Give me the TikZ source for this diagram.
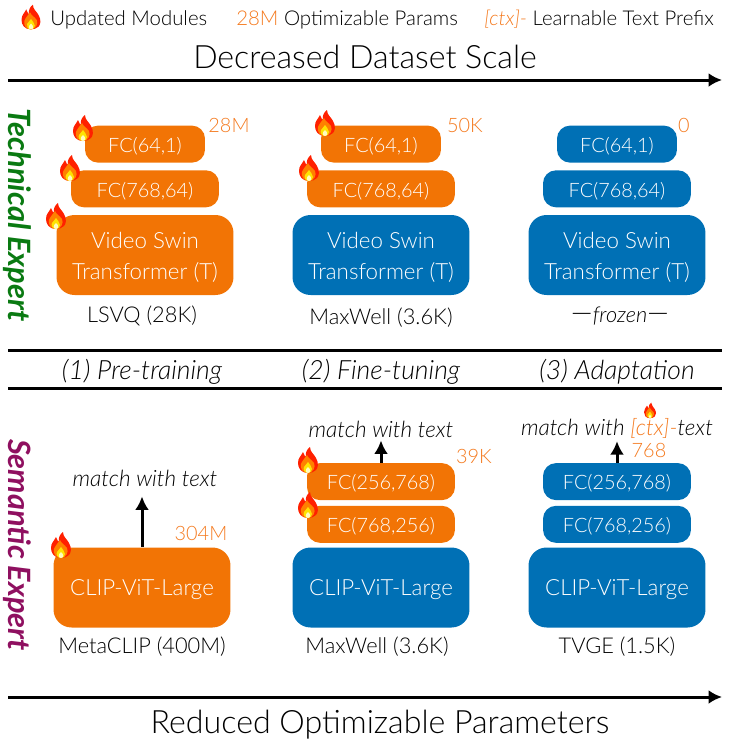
\documentclass[tikz,border=0pt]{standalone}
\usepackage{fontspec}
\setmainfont{Lato Light}[BoldFont={Lato},ItalicFont={Lato Light Italic},BoldItalicFont={Lato Bold Italic}]
\usetikzlibrary{positioning,arrows,arrows.meta}
\definecolor{modorange}{HTML}{F27405}
\definecolor{modblue}{HTML}{0070B5}
\definecolor{numorange}{HTML}{F47A1F}
\definecolor{techgreen}{HTML}{0A7A12}
\definecolor{semplum}{HTML}{8F1060}
\newcommand{\videolabel}{\rule{0pt}{0.42cm}Video Swin\\Transformer (T)}
\tikzset{
  box/.style={rounded corners=0.26cm, text=white, inner sep=0pt, minimum height=0.74cm,
    execute at begin node={\rule{0pt}{0.38cm}}},
  fcsmall/.style={box, minimum width=2.4cm, font=\fontsize{11.3}{13}\selectfont},
  fcwide/.style={box, minimum width=2.96cm, font=\fontsize{11.3}{13}\selectfont},
  mainbox/.style={rounded corners=0.36cm, text=white, inner sep=0pt, minimum width=3.54cm,
    minimum height=1.6cm, align=center, font=\fontsize{12.7}{17.6}\selectfont},
  clipbox/.style={mainbox, execute at begin node={\rule{0pt}{0.42cm}}},
  legend/.style={anchor=west, inner sep=0pt, font=\fontsize{11.6}{13}\selectfont},
  caption/.style={font=\fontsize{12.4}{14}\selectfont},
  number/.style={text=numorange, font=\fontsize{11.3}{13}\selectfont},
  matchtext/.style={font=\fontsize{12.8}{14}\selectfont\itshape},
  stage/.style={font=\fontsize{15.1}{17}\selectfont\itshape},
  headline/.style={font=\fontsize{18.3}{21}\selectfont},
  expert/.style={rotate=-90, font=\fontsize{17.5}{20}\selectfont\bfseries\itshape},
  rule/.style={line width=0.06cm},
  tip/.style={-{Latex[length=0.27cm,width=0.28cm]}},
  pics/flame/.style={code={
    \fill[red!75!orange] (0,12) .. controls (-7,12) and (-10,7) .. (-10,2)
      .. controls (-10,-3) and (-7,-5) .. (-5,-9) .. controls (-4,-6) and (-3,-5) .. (-2,-4)
      .. controls (-3,-8) and (-1,-12) .. (2,-14) .. controls (2,-9) and (6,-7) .. (8,-3)
      .. controls (11,2) and (10,7) .. (8,9) .. controls (6,11) and (3,12) .. (0,12) -- cycle;
    \fill[orange] (0,12) .. controls (-5,12) and (-8,8) .. (-7,3)
      .. controls (-6,0) and (-3,-3) .. (-1,-6) .. controls (0,-3) and (4,-1) .. (6,2)
      .. controls (8,6) and (5,12) .. (0,12) -- cycle;
    \fill[yellow!85!orange] (0,12) .. controls (-4,12) and (-5,8) .. (-4,6)
      .. controls (-3,4) and (-1,3) .. (0,1) .. controls (1,3) and (4,5) .. (4,8)
      .. controls (4,10) and (2,12) .. (0,12) -- cycle;
    \fill[yellow!25] (0,12) .. controls (-3,12) and (-3,8) .. (0,6)
      .. controls (3,8) and (3,12) .. (0,12) -- cycle;
  }}
}
\begin{document}
\begin{tikzpicture}[x=0.02cm, y=-0.02cm, node distance=0.14cm]
  \useasboundingbox (0,0) rectangle (731,745);

  % Legend
  \pic[scale=0.95] at (31,18) {flame};
  \node[legend] (legenda) at (50,19.5) {Updated Modules};
  \node[legend] (legendb) at (236,19.5) {\textcolor{numorange}{28M} Optimizable Params};
  \node[legend] (legendc) at (484,19.5) {\textcolor{numorange}{\textit{[ctx]-}} Learnable Text Prefix};

  % Headings and rules
  \node[headline] (topline) at (365,57) {Decreased Dataset Scale};
  \node[headline] (botline) at (380,725) {Reduced Optimizable Parameters};
  \coordinate (ta) at (8,80);   \coordinate (tb) at (722,80);
  \coordinate (ma) at (8,350);  \coordinate (mb) at (722,350);
  \coordinate (na) at (8,388);  \coordinate (nb) at (722,388);
  \coordinate (ba) at (8,697);  \coordinate (bb) at (722,697);
  \draw[rule, tip] (ta) -- (tb);
  \draw[rule] (ma) -- (mb);
  \draw[rule] (na) -- (nb);
  \draw[rule, tip] (ba) -- (bb);

  \node[expert, text=techgreen] (technical) at (17,215) {Technical Expert};
  \node[expert, text=semplum] (semantic) at (17,545) {Semantic Expert};

  \node[stage] (stagea) at (142,372) {(1) Pre-training};
  \node[stage] (stageb) at (381,372) {(2) Fine-tuning};
  \node[stage] (stagec) at (617,372) {(3) Adaptation};

  % Technical expert, pre-training
  \node[mainbox, fill=modorange] (videoa) at (145,255) {\videolabel};
  \node[fcwide, fill=modorange, above=of videoa] (fcawide) {FC(768,64)};
  \node[fcsmall, fill=modorange, above=of fcawide] (fcasmall) {FC(64,1)};
  \node[number] (numa) at (229,125) {28M};
  \node[caption] (capa) at (142,316) {LSVQ (28K)};
  \pic at (83,129) {flame};
  \pic at (70,169) {flame};
  \pic at (56,217) {flame};

  % Technical expert, fine-tuning
  \node[mainbox, fill=modblue] (videob) at (381,255) {\videolabel};
  \node[fcwide, fill=modorange, above=of videob] (fcbwide) {FC(768,64)};
  \node[fcsmall, fill=modorange, above=of fcbwide] (fcbsmall) {FC(64,1)};
  \node[number] (numb) at (465,125) {50K};
  \node[caption] (capb) at (381,318) {MaxWell (3.6K)};
  \pic at (325,124) {flame};
  \pic at (309,169) {flame};

  % Technical expert, adaptation
  \node[mainbox, fill=modblue] (videoc) at (617,255) {\videolabel};
  \node[fcwide, fill=modblue, above=of videoc] (fccwide) {FC(768,64)};
  \node[fcsmall, fill=modblue, above=of fccwide] (fccsmall) {FC(64,1)};
  \node[number] (numc) at (684,125) {0};
  \node[caption] (capc) at (620,316) {\textit{{\fontsize{17}{14}\selectfont---}frozen{\fontsize{17}{14}\selectfont---}}};

  % Semantic expert, pre-training
  \node[clipbox, fill=modorange] (clipa) at (142,587.5) {CLIP-ViT-Large};
  \node[matchtext] (matcha) at (145,478) {match with text};
  \node[number] (numd) at (201,533) {304M};
  \node[caption] (capd) at (142,647) {MetaCLIP (400M)};
  \draw[rule, tip, shorten >=0.08cm] (clipa.north) -- (clipa.north |- matcha.south);
  \pic at (61,546) {flame};

  % Semantic expert, fine-tuning
  \node[clipbox, fill=modblue] (clipb) at (381,587.5) {CLIP-ViT-Large};
  \node[fcwide, fill=modorange, above=of clipb, yshift=-0.06cm] (fcdlow) {FC(768,256)};
  \node[fcwide, fill=modorange, above=of fcdlow, yshift=-0.04cm] (fcdhigh) {FC(256,768)};
  \node[matchtext] (matchb) at (381,429) {match with text};
  \node[number] (nume) at (474,456) {39K};
  \node[caption] (cape) at (377,647) {MaxWell (3.6K)};
  \draw[rule, tip, shorten >=-0.06cm] (fcdhigh.north) -- (fcdhigh.north |- matchb.south);
  \pic at (308,461) {flame};
  \pic at (308,506) {flame};

  % Semantic expert, adaptation
  \node[clipbox, fill=modblue] (clipc) at (617,587.5) {CLIP-ViT-Large};
  \node[fcwide, fill=modblue, above=of clipc, yshift=-0.06cm] (fcelow) {FC(768,256)};
  \node[fcwide, fill=modblue, above=of fcelow, yshift=-0.04cm] (fcehigh) {FC(256,768)};
  \node[matchtext] (matchc) at (617,428) {match with \textcolor{numorange}{[ctx]-}text};
  \node[number] (numf) at (649,450) {768};
  \node[caption] (capf) at (617,647) {TVGE (1.5K)};
  \draw[rule, tip, shorten >=-0.06cm] (fcehigh.north) -- (fcehigh.north |- matchc.south);
  \pic[scale=0.6] at (650,411) {flame};
\end{tikzpicture}
\end{document}
